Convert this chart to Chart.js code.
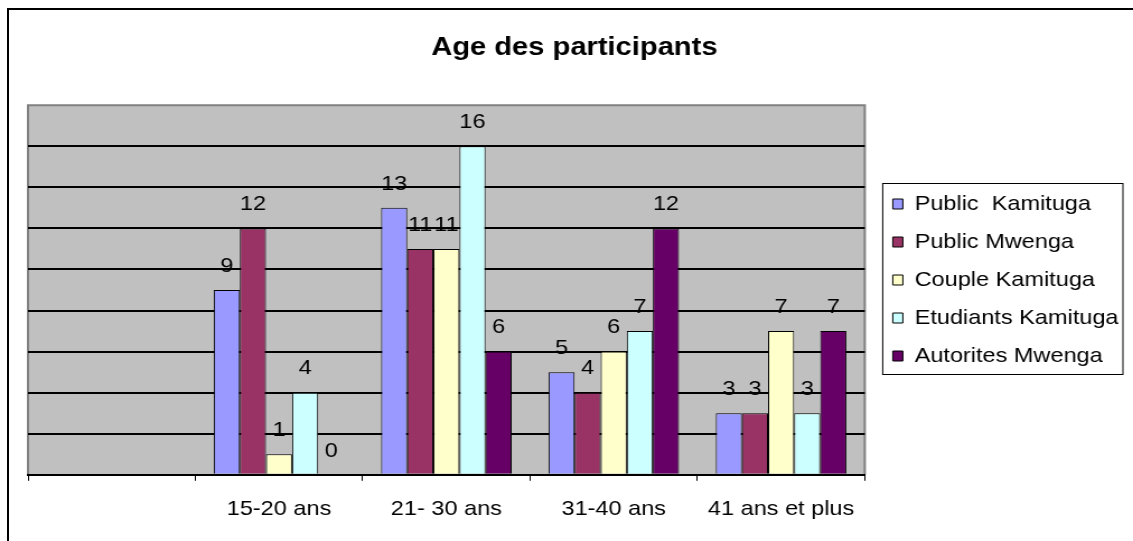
<!DOCTYPE html>
<html>
<head>
<meta charset="utf-8">
<script src="https://cdn.jsdelivr.net/npm/chart.js@4.4.1/dist/chart.umd.min.js"></script>
<style>
  html, body { margin: 0; padding: 0; background: #fff; overflow: hidden; }
  .frame { position: absolute; left: 7px; top: 8px; width: 1200px; height: 600px; border: 2px solid #000; }
  .wrap { position: absolute; left: 0; top: 0; width: 1012px; height: 541px; transform: scaleX(1.1196); transform-origin: 0 0; }
</style>
</head>
<body>
<div class="frame"></div>
<div class="wrap"><canvas class="chart"></canvas></div>
<script>
const categories = ["", "15-20 ans", "21- 30 ans", "31-40 ans", "41 ans et plus"];
const publicKamituga = [null, 9, 13, 5, 3];
const publicMwenga = [null, 12, 11, 4, 3];
const coupleKamituga = [null, 1, 11, 6, 7];
const etudiantsKamituga = [null, 4, 16, 7, 3];
const autoritesMwenga = [null, 0, 6, 12, 7];

const font = "Arial, 'Liberation Sans', sans-serif";

// grey plot area + grey frame on top/left/right
const plotArea = {
  id: "plotArea",
  beforeDraw(chart) {
    const { ctx, chartArea: a } = chart;
    ctx.save();
    ctx.fillStyle = "#c0c0c0";
    ctx.fillRect(a.left, a.top, a.right - a.left, a.bottom - a.top);
    ctx.strokeStyle = "#808080";
    ctx.lineWidth = 2;
    ctx.beginPath();
    ctx.moveTo(a.left, a.bottom);
    ctx.lineTo(a.left, a.top);
    ctx.lineTo(a.right, a.top);
    ctx.lineTo(a.right, a.bottom);
    ctx.stroke();
    ctx.restore();
  },
};

// value above each bar
const barValues = {
  id: "barValues",
  afterDatasetsDraw(chart) {
    const { ctx } = chart;
    ctx.save();
    ctx.font = "21px " + font;
    ctx.fillStyle = "#000";
    ctx.textAlign = "center";
    ctx.textBaseline = "middle";
    chart.data.datasets.forEach((ds, i) => {
      chart.getDatasetMeta(i).data.forEach((bar, j) => {
        if (ds.data[j] == null) return;
        ctx.fillText(String(ds.data[j]), bar.x, bar.y - 24);
      });
    });
    ctx.restore();
  },
};

// move the legend into place and give it a box
const legendBox = {
  id: "legendBox",
  afterLayout(chart) {
    const lg = chart.legend;
    lg.top += 11;
    lg.bottom += 11;
    lg.left += 8;
    lg.right += 8;
  },
  afterDraw(chart) {
    const boxes = chart.legend.legendHitBoxes;
    if (!boxes || !boxes.length) return;
    const left = Math.min(...boxes.map((b) => b.left)) - 9;
    const right = Math.max(...boxes.map((b) => b.left + b.width)) + 4;
    const top = boxes[0].top + boxes[0].height / 2 - 21;
    const last = boxes[boxes.length - 1];
    const bottom = last.top + last.height / 2 + 18;
    const { ctx } = chart;
    ctx.save();
    ctx.strokeStyle = "#000";
    ctx.lineWidth = 1;
    ctx.strokeRect(left, Math.round(top) + 0.5, right - left, Math.round(bottom - top));
    ctx.restore();
  },
};

const ctx = document.querySelector(".chart");

new Chart(ctx, {
  type: "bar",
  data: {
    labels: categories,
    datasets: [
      { label: "Public  Kamituga", data: publicKamituga, backgroundColor: "#9999ff" },
      { label: "Public Mwenga", data: publicMwenga, backgroundColor: "#993366" },
      { label: "Couple Kamituga", data: coupleKamituga, backgroundColor: "#ffffcc" },
      { label: "Etudiants Kamituga", data: etudiantsKamituga, backgroundColor: "#ccffff" },
      { label: "Autorites Mwenga", data: autoritesMwenga, backgroundColor: "#660066" },
    ],
  },
  options: {
    responsive: true,
    maintainAspectRatio: false,
    animation: false,
    datasets: {
      bar: {
        borderColor: "#000",
        borderWidth: 1,
        categoryPercentage: 0.78,
        barPercentage: 1,
      },
    },
    layout: {
      padding: { left: 25, right: 11, top: 0, bottom: 3 },
    },
    scales: {
      x: {
        offset: true,
        grid: { display: true, drawOnChartArea: false, offset: true, color: "#000", tickLength: 6 },
        border: { display: true, color: "#000", width: 2 },
        ticks: { color: "#000", font: { family: font, size: 21 }, padding: 16, maxRotation: 0 },
      },
      y: {
        min: 0,
        max: 18,
        ticks: { display: false, stepSize: 2 },
        grid: {
          drawTicks: false,
          color: (c) => (c.tick.value === 18 || c.tick.value === 0 ? "rgba(0,0,0,0)" : "#000"),
          lineWidth: 2,
        },
        border: { display: false },
        afterFit(scale) { scale.width = 0; },
      },
    },
    plugins: {
      title: {
        display: true,
        text: "Age des participants",
        color: "#000",
        font: { family: font, size: 26, weight: "bold" },
        padding: { top: 32, bottom: 42 },
      },
      legend: {
        position: "right",
        labels: {
          color: "#000",
          font: { family: font, size: 21 },
          boxWidth: 9,
          boxHeight: 10,
          padding: 17,
        },
      },
      tooltip: { enabled: false },
    },
  },
  plugins: [plotArea, barValues, legendBox],
});
</script>
</body>
</html>
